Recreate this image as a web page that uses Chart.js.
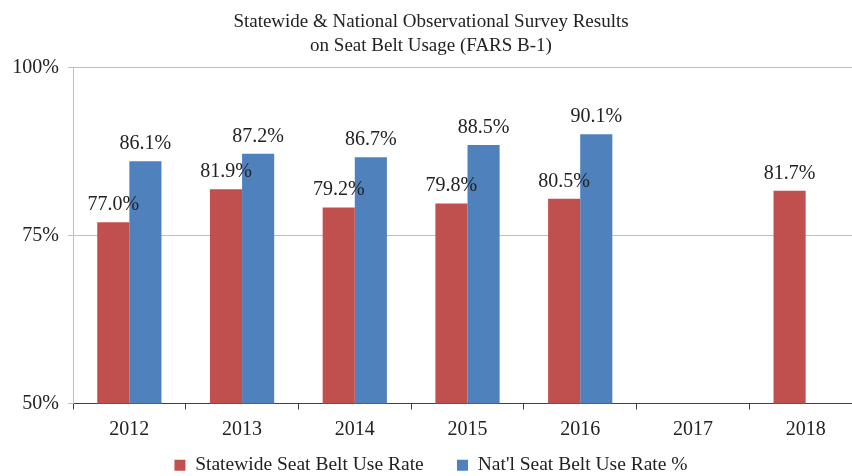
<!DOCTYPE html>
<html>
<head>
<meta charset="utf-8">
<script src="https://cdn.jsdelivr.net/npm/chart.js@4.4.0/dist/chart.umd.min.js"></script>
<style>
  html, body { margin: 0; padding: 0; background: #fff; overflow: hidden; }
  canvas { display: block; }
</style>
</head>
<body>
<canvas id="chart" width="880" height="476"></canvas>
<script>
// values
const years = ['2012', '2013', '2014', '2015', '2016', '2017', '2018'];
const statewide = [77.0, 81.9, 79.2, 79.8, 80.5, null, 81.7];
const national = [86.1, 87.2, 86.7, 88.5, 90.1, null, null];
const yTicks = [50, 75, 100];

const RED = '#C0504D';
const BLUE = '#4F81BD';
const TEXT = '#222';
const SERIF = "'Liberation Serif', 'Times New Roman', serif";

// draws the value above every bar
const barLabels = {
  id: 'barLabels',
  afterDatasetsDraw(chart) {
    const ctx = chart.ctx;
    ctx.save();
    ctx.font = '20px ' + SERIF;
    ctx.fillStyle = TEXT;
    ctx.textAlign = 'center';
    ctx.textBaseline = 'alphabetic';
    chart.data.datasets.forEach((ds, i) => {
      const meta = chart.getDatasetMeta(i);
      meta.data.forEach((bar, j) => {
        const v = ds.data[j];
        if (v === null) return;
        ctx.fillText(v.toFixed(1) + '%', bar.x, bar.y - 12);
      });
    });
    ctx.restore();
  }
};

new Chart(document.getElementById('chart'), {
  type: 'bar',
  data: {
    labels: years,
    datasets: [{
      label: 'Statewide Seat Belt Use Rate',
      data: statewide,
      backgroundColor: RED,
      borderWidth: 0
    }, {
      label: "Nat'l Seat Belt Use Rate %",
      data: national,
      backgroundColor: BLUE,
      borderWidth: 0
    }]
  },
  options: {
    responsive: false,
    animation: false,
    categoryPercentage: 0.57,
    barPercentage: 1.0,
    layout: { padding: { left: 0, right: 18, top: 0, bottom: -9 } },
    plugins: {
      title: {
        display: true,
        text: ['Statewide & National Observational Survey Results', 'on Seat Belt Usage (FARS B-1)'],
        color: TEXT,
        font: { family: SERIF, size: 19, weight: 'normal', lineHeight: 1.26 },
        padding: { top: 10, bottom: 10 }
      },
      legend: {
        position: 'bottom',
        labels: {
          color: TEXT,
          font: { family: SERIF, size: 19.5 },
          boxWidth: 11,
          boxHeight: 11,
          padding: 4,
          generateLabels(chart) {
            const items = Chart.defaults.plugins.legend.labels.generateLabels(chart);
            items[0].text += '\u2003\u2002';
            return items;
          }
        }
      },
      tooltip: { enabled: false }
    },
    scales: {
      x: {
        afterFit(scale) {
          scale.height = 48;
        },
        grid: {
          offset: true,
          drawOnChartArea: false,
          tickLength: 6,
          color: '#404040'
        },
        border: { color: '#404040', width: 1 },
        ticks: {
          color: TEXT,
          font: { family: SERIF, size: 20 },
          padding: 8
        }
      },
      y: {
        min: 50,
        max: 100,
        afterBuildTicks(scale) {
          scale.ticks = yTicks.map(v => ({ value: v }));
        },
        afterFit(scale) {
          scale.width = 73;
        },
        grid: {
          color: '#BFBFBF',
          tickLength: 5
        },
        border: { color: '#BFBFBF' },
        ticks: {
          color: TEXT,
          font: { family: SERIF, size: 20 },
          padding: 9,
          callback: v => v + '%'
        }
      }
    }
  },
  plugins: [barLabels]
});
</script>
</body>
</html>
